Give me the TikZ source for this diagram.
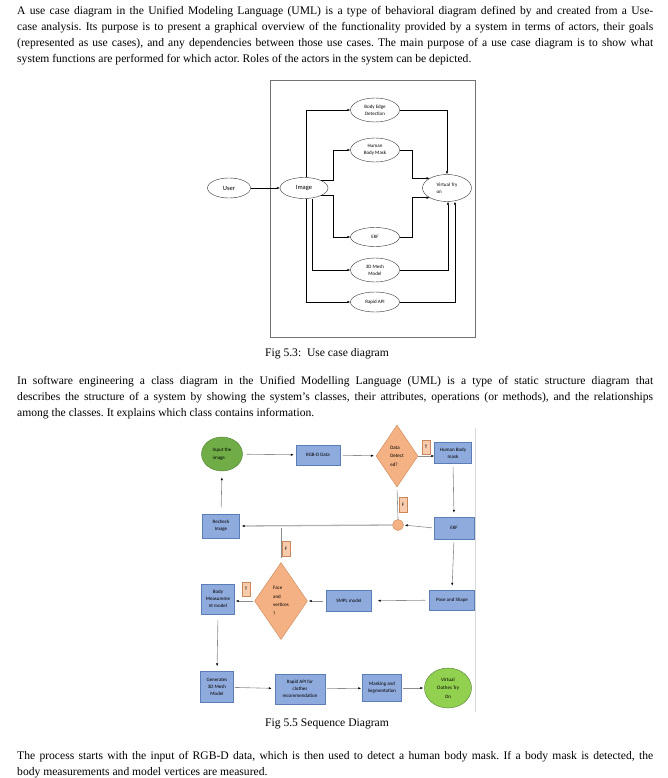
\documentclass[tikz,border=0pt]{standalone}
\usepackage{fontspec}
\setmainfont{Liberation Serif}
\newfontfamily\diafont{Carlito}
\usetikzlibrary{arrows.meta,positioning,shapes.geometric}

\definecolor{boxblue}{HTML}{8FAADC}
\definecolor{boxline}{HTML}{5B7DB8}
\definecolor{darkgreen}{HTML}{70AD47}
\definecolor{greenline}{HTML}{507E32}
\definecolor{lightgreen}{HTML}{92D050}
\definecolor{peach}{HTML}{F4B183}
\definecolor{peachline}{HTML}{C9875A}
\definecolor{tagfill}{HTML}{F8CBAD}

\newcommand{\jl}[1]{\makebox[636pt][s]{#1}}
\frenchspacing

\begin{document}
\begin{tikzpicture}[
    x=1pt, y=-1pt,
    para/.style={
        anchor=base west,
        inner sep=0pt,
        align=left,
        font=\fontsize{11.6}{16}\selectfont
    },
    caption/.style={
        anchor=base,
        inner sep=0pt,
        font=\fontsize{11.6}{16}\selectfont
    },
    uc/.style={
        ellipse,
        draw=black!80,
        thin,
        minimum width=49pt,
        minimum height=24pt,
        inner sep=0pt,
        align=center,
        font=\diafont\fontsize{5}{7}\selectfont
    },
    ucarr/.style={-{Latex[length=3pt,width=2.4pt]}, thin},
    blk/.style={
        rectangle,
        draw=boxline,
        fill=boxblue,
        thin,
        inner sep=0.5pt,
        align=center,
        font=\diafont\fontsize{5}{7}\selectfont
    },
    dec/.style={
        diamond,
        draw=peachline,
        fill=peach,
        thin,
        inner sep=0pt,
        align=left,
        font=\diafont\fontsize{5}{8.5}\selectfont
    },
    tag/.style={
        draw=peachline,
        fill=tagfill,
        thin,
        minimum width=8pt,
        minimum height=14pt,
        inner sep=0pt,
        font=\diafont\fontsize{5}{6}\selectfont
    },
    flow/.style={
        -{Latex[length=3pt,width=2.4pt,color=black]},
        draw=black!45,
        line width=0.6pt
    }
]
\useasboundingbox (0,0) rectangle (667,778);

% text above the first figure
\node[para] (introtext) at (17,63)
{\jl{A use case diagram in the Unified Modeling Language (UML) is a type of behavioral diagram defined by and created from a Use-}\\
\jl{case analysis. Its purpose is to present a graphical overview of the functionality provided by a system in terms of actors, their goals}\\
\jl{(represented as use cases), and any dependencies between those use cases. The main purpose of a use case diagram is to show what}\\
system functions are performed for which actor. Roles of the actors in the system can be depicted.};

% use case diagram
\node[draw=black!55, thin, minimum width=205pt, minimum height=257pt, inner sep=0pt] (sysbox) at (372.5,208.5) {};

\node[uc, minimum width=43pt, minimum height=20pt, font=\diafont\fontsize{6.5}{8}\selectfont] (user) at (229,188) {User};
\node[uc, minimum width=48pt, minimum height=21pt, font=\diafont\fontsize{6.5}{8}\selectfont] (image) at (304,188) {Image};

\node[uc] (edge) at (375,110) {Body Edge\\Detection};
\node[uc] (bodymask) at (375,150) {Human\\Body Mask};
\node[uc, minimum height=19pt] (ekf) at (375,237) {EKF};
\node[uc] (mesh) at (375,270) {3D Mesh\\Model};
\node[uc, minimum height=20pt] (rapid) at (375,302) {Rapid API};
\node[uc, minimum height=27pt, align=left] (tryon) at (447,188) {Virtual Try\\on};

\draw[ucarr] (user) -- (image);
\draw[ucarr] ([xshift=2pt]image.north) |- (edge.west);
\draw[ucarr] (image.north east) -- ++(12,0) |- (bodymask.west);
\draw[ucarr] (image.south east) -- ++(12,0) |- (ekf.west);
\draw[ucarr] ([xshift=8pt]image.south) |- (mesh.west);
\draw[ucarr] ([xshift=2pt]image.south) |- (rapid.west);

\draw[ucarr] (edge.east) -| (tryon.north);
\draw[ucarr] (bodymask.east) -- ++(12,0) |- (tryon.north west);
\draw[ucarr] (ekf.east) -- ++(12,0) |- (tryon.south west);
\draw[ucarr] (mesh.east) -| ([xshift=1pt]tryon.south);
\draw[ucarr] (rapid.east) -| ([xshift=8pt]tryon.south);

\node[caption] (capuse) at (327,356) {Fig 5.3:\ \ Use case diagram};

% text above the second figure
\node[para] (classtext) at (17,416)
{\jl{In software engineering a class diagram in the Unified Modelling Language (UML) is a type of static structure diagram that}\\
\jl{describes the structure of a system by showing the system's classes, their attributes, operations (or methods), and the relationships}\\
among the classes. It explains which class contains information.};

% sequence diagram
\draw[black!15] (475,428) -- (475,712);

\node[ellipse, draw=greenline, fill=darkgreen, thin, minimum width=41pt, minimum height=34pt, inner sep=0pt,
      align=left, font=\diafont\fontsize{5}{8.5}\selectfont] (input) at (222,454) {Input the\\image};
\node[blk, minimum width=44pt, minimum height=20pt] (rgbd) at (318,455) {RGB-D Data};
\node[dec, minimum width=42pt, minimum height=62pt] (detect) at (397,456) {Data\\Detect\\ed?};
\node[blk, minimum width=37pt, minimum height=21pt] (humanmask) at (453,453) {Human Body\\mask};
\node[tag] (true1) at (426,447) {T};

\node[blk, minimum width=40pt, minimum height=22pt] (ekfbox) at (454,528) {EKF};
\node[circle, draw=peachline, fill=peach, thin, minimum size=11pt, inner sep=0pt] (join) at (398,525) {};
\node[tag, minimum height=15pt] (false1) at (403,505) {F};
\node[blk, minimum width=37pt, minimum height=24pt] (recheck) at (221,526) {Recheck\\Image};

\node[blk, minimum width=45pt, minimum height=20pt] (pose) at (452,600) {Pose and Shape};
\node[blk, minimum width=45pt, minimum height=21pt] (smpl) at (349,601) {SMPL model};
\node[dec, minimum width=53pt, minimum height=77pt] (face) at (281,601) {Face\\and\\vertices\\?};
\node[tag, minimum height=15pt] (false2) at (286,549) {F};
\node[tag] (true2) at (246,589) {T};
\node[blk, minimum width=33pt, minimum height=30pt] (measure) at (218,599) {Body\\Measureme\\nt model};

\node[blk, minimum width=33pt, minimum height=31pt] (genmesh) at (217,687) {Generates\\3D Mesh\\Model};
\node[blk, minimum width=50pt, minimum height=30pt] (rapidapi) at (300,689) {Rapid API for\\clothes\\recommendation};
\node[blk, minimum width=39pt, minimum height=27pt] (masking) at (382,688) {Masking and\\Segmentation};
\node[ellipse, draw=greenline, fill=lightgreen, thin, minimum width=47pt, minimum height=40pt, inner sep=0pt,
      align=center, font=\diafont\fontsize{5}{8.5}\selectfont] (clothes) at (448,688) {Virtual\\Clothes Try\\On};

\draw[flow, shorten <=4pt, shorten >=2pt] (input) -- (rgbd);
\draw[flow, shorten <=3pt, shorten >=2pt] (rgbd) -- (detect);
\draw[flow] (detect.east) -- (detect.east -| humanmask.west);
\draw[flow, shorten <=3pt, shorten >=4pt] (humanmask.south) -- (ekfbox.north);
\draw[flow, shorten <=2pt, shorten >=1pt] (ekfbox.west) -- (join.east);
\draw[black!30, line width=1.3pt, -{Latex[length=3pt,width=2.4pt,color=black]}, shorten >=2pt] (join.west) -- (recheck.east);
\draw[black!45, line width=0.6pt, shorten <=3pt] (detect.south) -- (join.north);
\draw[flow, shorten <=6pt, shorten >=6pt] (recheck.north) -- (input.south);
\draw[black!45, line width=0.6pt, shorten <=3pt, shorten >=4pt] (face.north |- join.west) -- (face.north);

\draw[flow, shorten <=3pt, shorten >=4pt] (ekfbox.south) -- (pose.north);
\draw[flow, shorten <=4pt, shorten >=6pt] (pose) -- (smpl);
\draw[flow, shorten <=3pt, shorten >=1pt] (smpl) -- (face);
\draw[flow, shorten <=1pt, shorten >=1pt] (face.west) -- (face.west -| measure.east);
\draw[flow, shorten <=6pt, shorten >=5pt] (measure.south) -- (genmesh.north);
\draw[flow, shorten <=1pt, shorten >=3pt] (genmesh) -- (rapidapi);
\draw[flow, shorten <=2pt, shorten >=1pt] (rapidapi) -- (masking);
\draw[flow, shorten <=1pt, shorten >=1pt] (masking) -- (clothes);

\node[caption] (capseq) at (327,726) {Fig 5.5 Sequence Diagram};

% text below the second figure
\node[para] (processtext) at (17,775)
{\jl{The process starts with the input of RGB-D data, which is then used to detect a human body mask. If a body mask is detected, the}\\
body measurements and model vertices are measured.};

\end{tikzpicture}
\end{document}
